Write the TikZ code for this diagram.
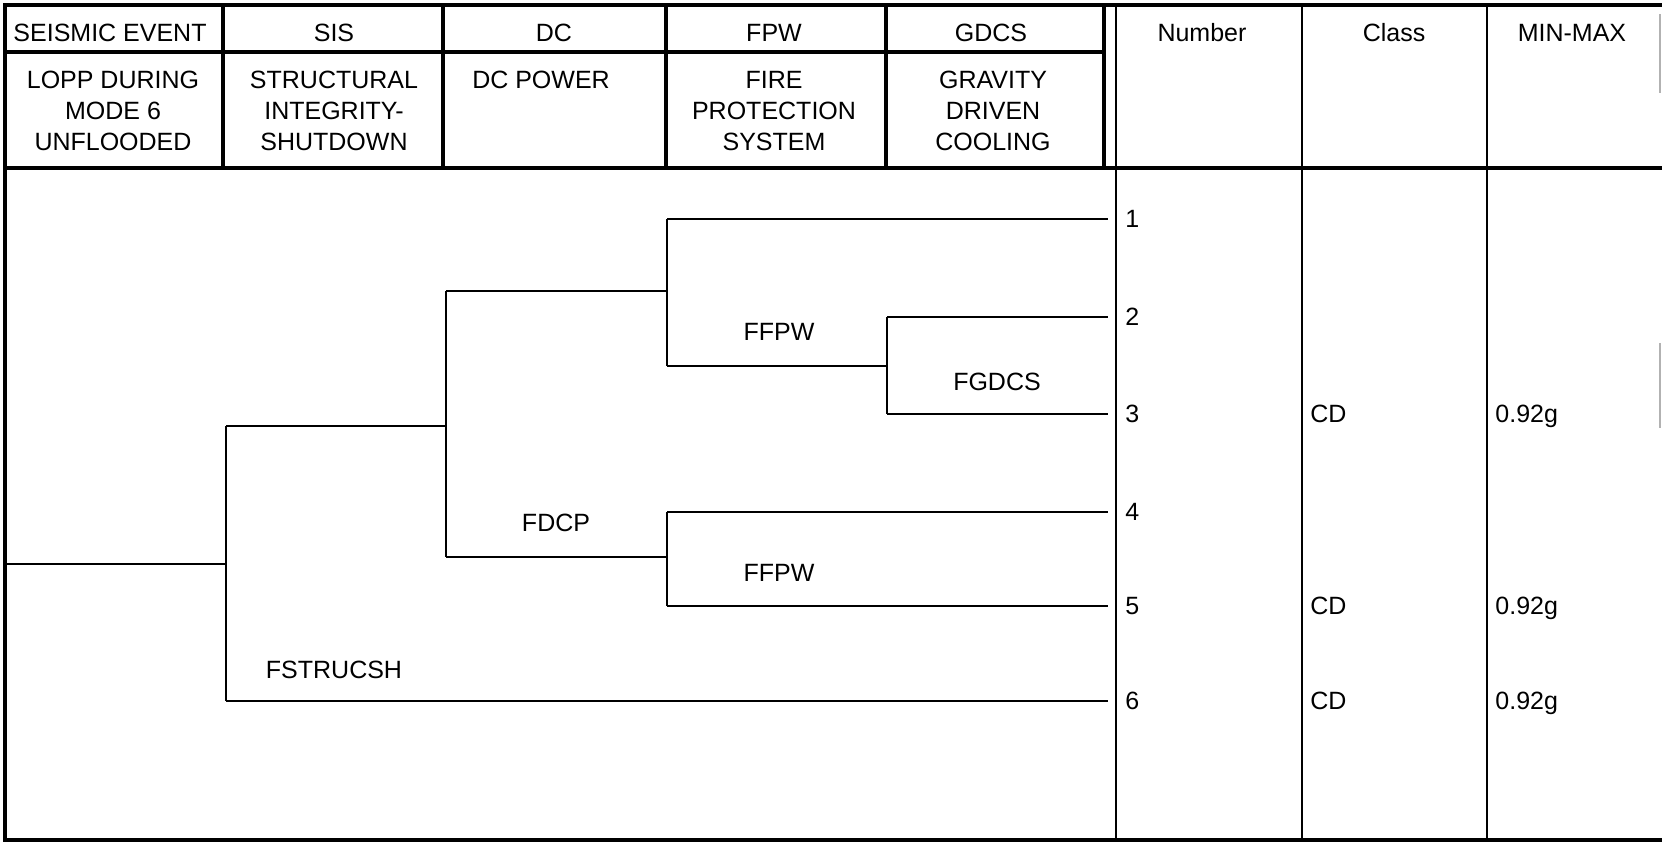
\documentclass[tikz,border=0pt]{standalone}
\usepackage{fontspec}
\setmainfont{Liberation Sans}
\begin{document}
\begin{tikzpicture}[x=0.5pt,y=-0.5pt,
  grid/.style={line width=1.6pt, line cap=rect},
  thin grid/.style={line width=1.1pt},
  tree/.style={line width=1pt},
  txt/.style={inner sep=0pt, font=\fontsize{12.5}{15.5}\selectfont, align=center},
  hdr/.style={txt, anchor=base},
  lab/.style={inner sep=0pt, font=\fontsize{12.5}{15.5}\selectfont, anchor=base west},
  blab/.style={inner sep=0pt, font=\fontsize{12.5}{15.5}\selectfont, anchor=center}]
\useasboundingbox (0,0) rectangle (1662,844);
% ---------- table frame ----------
\draw[grid] (5,5) -- (1660,5);
\draw[grid] (5,168) -- (1660,168);
\draw[grid] (5,840) -- (1660,840);
\draw[grid] (5,5) -- (5,840);
\draw[grid] (5,52) -- (1104,52);
\foreach \x in {223,443,666,886,1104} \draw[grid] (\x,5) -- (\x,168);
\draw[thin grid] (1116,5) -- (1116,840);
\draw[thin grid] (1302,5) -- (1302,840);
\draw[thin grid] (1487,5) -- (1487,840);
\draw[line width=0.6pt, gray!60] (1660,14) -- (1660,93);
\draw[line width=0.6pt, gray!60] (1660,343) -- (1660,428);
% ---------- header texts ----------
\node[hdr] (t1) at (110,42) {SEISMIC EVENT};
\node[hdr] (t2) at (334,42) {SIS};
\node[hdr] (t3) at (554,42) {DC};
\node[hdr] (t4) at (774,42) {FPW};
\node[hdr] (t5) at (991,42) {GDCS};
\node[hdr] (t6) at (1202,42) {Number};
\node[hdr] (t7) at (1394,42) {Class};
\node[hdr] (t8) at (1572,42) {MIN-MAX};
\node[hdr] (d1) at (113,151) {LOPP DURING\\MODE 6\\UNFLOODED};
\node[hdr] (d2) at (334,151) {STRUCTURAL\\INTEGRITY-\\SHUTDOWN};
\node[hdr] (d3) at (541,89) {DC POWER};
\node[hdr] (d4) at (774,151) {FIRE\\PROTECTION\\SYSTEM};
\node[hdr] (d5) at (993,151) {GRAVITY\\DRIVEN\\COOLING};
% ---------- event tree points ----------
\coordinate (r0) at (5,564);
\coordinate (a) at (226,564);
\coordinate (aU) at (226,426);
\coordinate (aD) at (226,701);
\coordinate (b) at (446,426);
\coordinate (bU) at (446,291.5);
\coordinate (bD) at (446,557.5);
\coordinate (c) at (667,291.5);
\coordinate (cU) at (667,219);
\coordinate (cD) at (667,366);
\coordinate (d) at (887,366);
\coordinate (dU) at (887,317);
\coordinate (dD) at (887,414);
\coordinate (e) at (667,557.5);
\coordinate (eU) at (667,512);
\coordinate (eD) at (667,606);
\coordinate (s1) at (1108,219);
\coordinate (s2) at (1108,317);
\coordinate (s3) at (1108,414);
\coordinate (s4) at (1108,512);
\coordinate (s5) at (1108,606);
\coordinate (s6) at (1108,701);
\draw[tree] (r0) -- (a);
\draw[tree] (aU) -- (aD);
\draw[tree] (aU) -- (b);
\draw[tree] (bU) -- (bD);
\draw[tree] (bU) -- (c);
\draw[tree] (cU) -- (cD);
\draw[tree] (cU) -- (s1);
\draw[tree] (cD) -- (d);
\draw[tree] (dU) -- (dD);
\draw[tree] (dU) -- (s2);
\draw[tree] (dD) -- (s3);
\draw[tree] (bD) -- (e);
\draw[tree] (eU) -- (eD);
\draw[tree] (eU) -- (s4);
\draw[tree] (eD) -- (s5);
\draw[tree] (aD) -- (s6);
% ---------- branch labels ----------
\node[blab] (l1) at (779,332) {FFPW};
\node[blab] (l2) at (997,382) {FGDCS};
\node[blab] (l3) at (556,523) {FDCP};
\node[blab] (l4) at (779,573) {FFPW};
\node[blab] (l5) at (334,670) {FSTRUCSH};
% ---------- sequence columns ----------
\node[lab] (n1) at (1125,228) {1};
\node[lab] (n2) at (1125,326) {2};
\node[lab] (n3) at (1125,423) {3};
\node[lab] (n4) at (1125,521) {4};
\node[lab] (n5) at (1125,615) {5};
\node[lab] (n6) at (1125,710) {6};
\node[lab] (c3) at (1310,423) {CD};
\node[lab] (c5) at (1310,615) {CD};
\node[lab] (c6) at (1310,710) {CD};
\node[lab] (m3) at (1495,423) {0.92g};
\node[lab] (m5) at (1495,615) {0.92g};
\node[lab] (m6) at (1495,710) {0.92g};
\end{tikzpicture}
\end{document}
